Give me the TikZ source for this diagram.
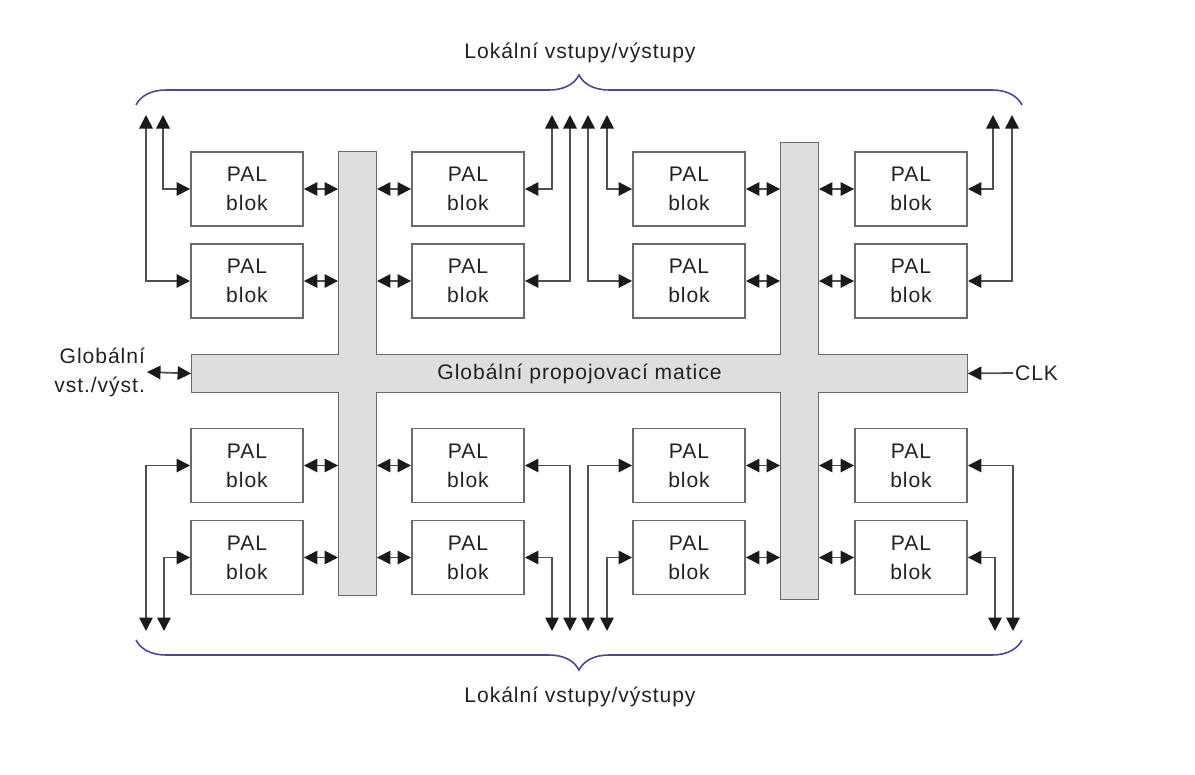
\documentclass[tikz,border=0pt]{standalone}
\usepackage{fontspec}
\setmainfont{Liberation Sans}[LetterSpace=4.5]
\usepackage{xcolor}
\usepackage{tikz}
\usetikzlibrary{arrows.meta,positioning,calc,decorations.pathreplacing}
\definecolor{BoxGray}{HTML}{6A6A6A}
\definecolor{LineGray}{HTML}{505050}
\definecolor{TipBlack}{HTML}{1A1A1A}
\definecolor{BarFill}{HTML}{DEDEDE}
\definecolor{BraceBlue}{HTML}{4B4794}
\definecolor{TextBlack}{HTML}{222222}

\begin{document}
\begin{tikzpicture}[
    x=0.02cm, y=-0.02cm,
    font=\fontsize{12}{16.5}\selectfont,
    palblock/.style={rectangle, draw=BoxGray, line width=1.1pt, fill=white, minimum width=2.24cm, minimum height=1.48cm, inner sep=0pt, align=center, text=TextBlack},
    bar/.style={rectangle, draw=BoxGray, line width=1.1pt, fill=BarFill, inner sep=0pt},
    label/.style={text=TextBlack, align=center, inner sep=1pt},
    arrow/.style={-{Triangle[length=0.27cm, width=0.27cm, color=TipBlack]}, line width=1pt, draw=LineGray},
    biarrow/.style={{Triangle[length=0.27cm, width=0.27cm, color=TipBlack]}-{Triangle[length=0.27cm, width=0.27cm, color=TipBlack]}, line width=1pt, draw=LineGray},
    iobrace/.style={decorate, decoration={brace, amplitude=0.6cm}, draw=BraceBlue, line width=0.9pt}
]
\useasboundingbox (0,0) rectangle (1195,774);

% global interconnect matrix
\node[bar, minimum width=0.74cm, minimum height=8.86cm] (vbarL) at (357.5,373.5) {};
\node[bar, minimum width=0.74cm, minimum height=9.12cm] (vbarR) at (799.5,371) {};
\node[bar, minimum width=15.5cm, minimum height=0.74cm] (hbar) at (579.5,373.5) {};
\fill[BarFill] ($(vbarL.south west)+(0.6pt,0.6pt)$) rectangle ($(vbarL.north east)+(-0.6pt,-0.6pt)$);
\fill[BarFill] ($(vbarR.south west)+(0.6pt,0.6pt)$) rectangle ($(vbarR.north east)+(-0.6pt,-0.6pt)$);
\fill[BarFill] ($(hbar.south west)+(0.6pt,0.6pt)$) rectangle ($(hbar.north east)+(-0.6pt,-0.6pt)$);
\node[label] (matice) at (hbar.center) {Globální propojovací matice};

% PAL blocks
\node[palblock] (pal11) at (247,189) {PAL\\blok};
\node[palblock] (pal12) at (468,189) {PAL\\blok};
\node[palblock] (pal13) at (689,189) {PAL\\blok};
\node[palblock] (pal14) at (911,189) {PAL\\blok};
\node[palblock] (pal21) at (247,281) {PAL\\blok};
\node[palblock] (pal22) at (468,281) {PAL\\blok};
\node[palblock] (pal23) at (689,281) {PAL\\blok};
\node[palblock] (pal24) at (911,281) {PAL\\blok};
\node[palblock] (pal31) at (247,465.5) {PAL\\blok};
\node[palblock] (pal32) at (468,465.5) {PAL\\blok};
\node[palblock] (pal33) at (689,465.5) {PAL\\blok};
\node[palblock] (pal34) at (911,465.5) {PAL\\blok};
\node[palblock] (pal41) at (247,557.5) {PAL\\blok};
\node[palblock] (pal42) at (468,557.5) {PAL\\blok};
\node[palblock] (pal43) at (689,557.5) {PAL\\blok};
\node[palblock] (pal44) at (911,557.5) {PAL\\blok};

% outer labels
\node[label, align=right, anchor=east] (gio) at (147,372) {Globální\\vst./výst.};
\node[label, anchor=west] (clk) at (1013,373) {CLK};
\node[label] (locTop) at (580,53) {Lokální vstupy/výstupy};
\node[label] (locBot) at (580,697) {Lokální vstupy/výstupy};

% block <-> matrix
\draw[biarrow] (pal11.east) -- (pal11.east -| vbarL.west);
\draw[biarrow] (pal21.east) -- (pal21.east -| vbarL.west);
\draw[biarrow] (pal31.east) -- (pal31.east -| vbarL.west);
\draw[biarrow] (pal41.east) -- (pal41.east -| vbarL.west);
\draw[biarrow] (pal12.west) -- (pal12.west -| vbarL.east);
\draw[biarrow] (pal22.west) -- (pal22.west -| vbarL.east);
\draw[biarrow] (pal32.west) -- (pal32.west -| vbarL.east);
\draw[biarrow] (pal42.west) -- (pal42.west -| vbarL.east);
\draw[biarrow] (pal13.east) -- (pal13.east -| vbarR.west);
\draw[biarrow] (pal23.east) -- (pal23.east -| vbarR.west);
\draw[biarrow] (pal33.east) -- (pal33.east -| vbarR.west);
\draw[biarrow] (pal43.east) -- (pal43.east -| vbarR.west);
\draw[biarrow] (pal14.west) -- (pal14.west -| vbarR.east);
\draw[biarrow] (pal24.west) -- (pal24.west -| vbarR.east);
\draw[biarrow] (pal34.west) -- (pal34.west -| vbarR.east);
\draw[biarrow] (pal44.west) -- (pal44.west -| vbarR.east);
\draw[biarrow] (gio.east) -- (hbar.west);
\draw[arrow] (clk.west) -- (hbar.east);

% local I/O pins
\coordinate (tl1) at (146,115); \coordinate (tl2) at (163,115);
\coordinate (tm1) at (552,115); \coordinate (tm2) at (570,115);
\coordinate (tm3) at (588,115); \coordinate (tm4) at (607,115);
\coordinate (tr1) at (993,115); \coordinate (tr2) at (1012,115);
\coordinate (bl1) at (146,631); \coordinate (bl2) at (164,631);
\coordinate (bm1) at (552,631); \coordinate (bm2) at (570,631);
\coordinate (bm3) at (588,631); \coordinate (bm4) at (607,631);
\coordinate (br1) at (995,631); \coordinate (br2) at (1013,631);

\draw[biarrow] (tl1) |- (pal21.west);
\draw[biarrow] (tl2) |- (pal11.west);
\draw[biarrow] (tm1) |- (pal12.east);
\draw[biarrow] (tm2) |- (pal22.east);
\draw[biarrow] (tm3) |- (pal23.west);
\draw[biarrow] (tm4) |- (pal13.west);
\draw[biarrow] (tr1) |- (pal14.east);
\draw[biarrow] (tr2) |- (pal24.east);
\draw[biarrow] (bl1) |- (pal31.west);
\draw[biarrow] (bl2) |- (pal41.west);
\draw[biarrow] (bm1) |- (pal42.east);
\draw[biarrow] (bm2) |- (pal32.east);
\draw[biarrow] (bm3) |- (pal33.west);
\draw[biarrow] (bm4) |- (pal43.west);
\draw[biarrow] (br1) |- (pal44.east);
\draw[biarrow] (br2) |- (pal34.east);

% braces
\coordinate (braceTL) at (136,105); \coordinate (braceTR) at (1022,105);
\coordinate (braceBL) at (136,640); \coordinate (braceBR) at (1022,640);
\draw[iobrace] (braceTL) -- (braceTR);
\draw[iobrace] (braceBR) -- (braceBL);
\end{tikzpicture}
\end{document}
